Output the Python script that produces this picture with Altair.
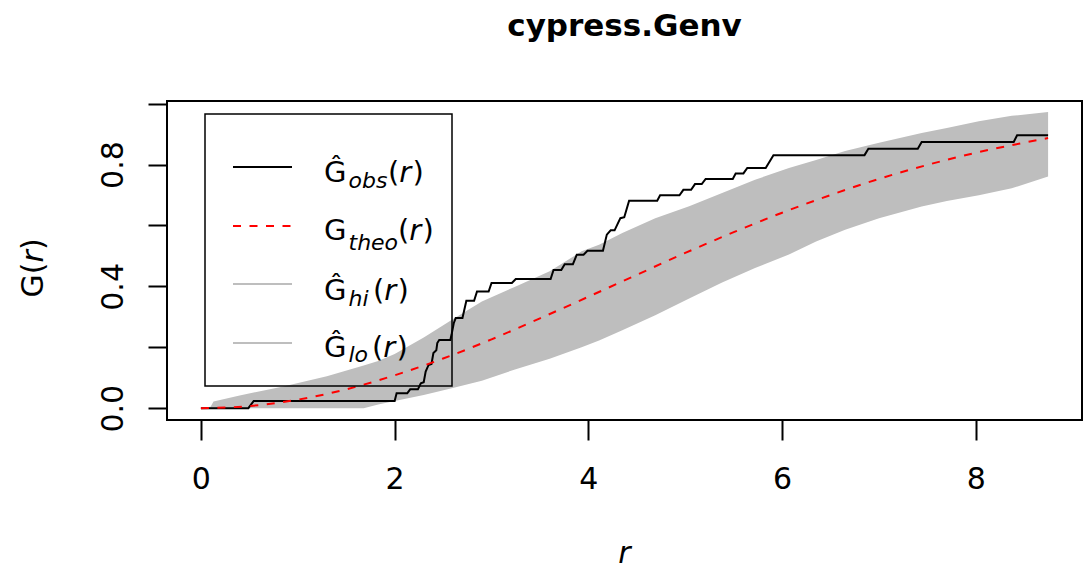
import altair as alt
import pandas as pd

# ---------------- data ----------------
TITLE = "cypress.Genv"
X_TICKS = [0, 2, 4, 6, 8]
Y_TICKS = [0.0, 0.2, 0.4, 0.6, 0.8, 1.0]
Y_LABELED = ["0.0", "0.4", "0.8"]

r_obs = [0, 0.49, 0.545, 2.00, 2.02, 2.13, 2.16, 2.24, 2.27, 2.30, 2.32, 2.35, 2.38,
         2.40, 2.43, 2.44, 2.46, 2.575, 2.59, 2.61, 2.63, 2.70, 2.74, 2.82, 2.85, 2.97,
         3.00, 3.21, 3.25, 3.61, 3.64, 3.72, 3.755, 3.84, 3.88, 3.95, 3.99, 4.15, 4.19,
         4.23, 4.27, 4.33, 4.37, 4.42, 4.71, 4.74, 4.94, 4.98, 5.06, 5.10, 5.17, 5.21,
         5.49, 5.52, 5.60, 5.64, 5.83, 5.91, 6.85, 6.89, 7.40, 7.44, 8.39, 8.425, 8.745]
g_obs = [0, 0, 0.024, 0.024, 0.049, 0.049, 0.062, 0.062, 0.082, 0.085, 0.120, 0.142, 0.145,
         0.181, 0.19, 0.214, 0.224, 0.224, 0.246, 0.279, 0.296, 0.296, 0.353, 0.353, 0.383, 0.383,
         0.411, 0.411, 0.424, 0.424, 0.454, 0.454, 0.473, 0.473, 0.504, 0.504, 0.517, 0.517, 0.570,
         0.584, 0.584, 0.624, 0.627, 0.681, 0.681, 0.699, 0.699, 0.717, 0.717, 0.736, 0.736, 0.753,
         0.753, 0.771, 0.771, 0.789, 0.789, 0.831, 0.831, 0.852, 0.852, 0.874, 0.874, 0.896, 0.896]

r_theo = [0, 0.5, 1.0, 1.5, 2.0, 2.5, 3.0, 3.5, 4.0, 4.5, 5.0, 5.5, 6.0, 6.5, 7.0, 7.5, 8.0, 8.5, 8.745]
g_theo = [0, 0.007, 0.028, 0.062, 0.108, 0.163, 0.226, 0.295, 0.366, 0.438, 0.510, 0.578, 0.642,
          0.700, 0.753, 0.799, 0.839, 0.872, 0.887]

r_env = [0, 0.10, 0.13, 0.40, 0.85, 1.30, 1.68, 1.83, 2.00, 2.30, 2.60, 2.90, 3.25, 3.60, 3.93,
         4.11, 4.35, 4.69, 5.04, 5.38, 5.72, 6.07, 6.35, 6.65, 7.00, 7.44, 7.70, 8.03, 8.37, 8.745]
g_hi = [0, 0.005, 0.022, 0.042, 0.071, 0.105, 0.14, 0.155, 0.178, 0.232, 0.292, 0.35, 0.40, 0.45, 0.515,
        0.537, 0.575, 0.624, 0.663, 0.707, 0.75, 0.789, 0.815, 0.845, 0.872, 0.904, 0.92, 0.942, 0.96, 0.973]
g_lo = [0, 0, 0, 0, 0, 0, 0, 0.012, 0.024, 0.043, 0.066, 0.09, 0.128, 0.162, 0.2,
        0.222, 0.256, 0.305, 0.36, 0.413, 0.46, 0.505, 0.547, 0.586, 0.624, 0.662, 0.68, 0.699, 0.722, 0.761]

LEGEND_SUBS = ["obs", "theo", "hi", "lo"]
LEGEND_HAT = [True, False, True, True]

# ---------------- styling ----------------
FONT = "DejaVu Sans"
GREY = "#BEBEBE"
W, H = 915, 319
PAD_L, PAD_T = 167, 101

obs_df = pd.DataFrame({"r": r_obs, "g": g_obs})
theo_df = pd.DataFrame({"r": r_theo, "g": g_theo})
env_df = pd.DataFrame({"r": r_env, "hi": g_hi, "lo": g_lo})
one = pd.DataFrame({"k": [0]})

xscale = alt.Scale(domain=[-0.35, 9.095], nice=False, zero=False)
yscale = alt.Scale(domain=[-0.0388, 1.0088], nice=False, zero=False)

xaxis = alt.Axis(values=X_TICKS, format="d", title=None, grid=False, domain=False, tickSize=20,
                 tickWidth=2, tickColor="black", labelFontSize=30, labelFont=FONT,
                 labelColor="black", labelPadding=24, labelFlush=False, labelOverlap=False)
yaxis = alt.Axis(values=Y_TICKS, title=None, grid=False, domain=False, tickSize=19, tickWidth=2,
                 tickColor="black", labelFontSize=30, labelFont=FONT, labelColor="black",
                 labelAngle=270, labelAlign="center", labelBaseline="alphabetic",
                 labelPadding=26, labelFlush=False, labelOverlap=False,
                 labelExpr="indexof(" + str(Y_LABELED) + ", format(datum.value, '.1f')) >= 0 ? format(datum.value, '.1f') : ''")

env = alt.Chart(env_df).mark_area(color=GREY, opacity=1).encode(
    x=alt.X("r:Q", scale=xscale, axis=xaxis),
    y=alt.Y("lo:Q", scale=yscale, axis=yaxis),
    y2="hi:Q",
)
obs = alt.Chart(obs_df).mark_line(color="black", strokeWidth=2).encode(
    x=alt.X("r:Q", scale=xscale), y=alt.Y("g:Q", scale=yscale))
theo = alt.Chart(theo_df).mark_line(color="red", strokeWidth=2, strokeDash=[8, 8.5],
                                    interpolate="monotone").encode(
    x=alt.X("r:Q", scale=xscale), y=alt.Y("g:Q", scale=yscale))


def txt(text, x, y, size, style="normal", weight="normal", angle=0, align="left"):
    return alt.Chart(one).mark_text(text=text, fontSize=size, font=FONT, fontStyle=style,
                                    fontWeight=weight, angle=angle, align=align,
                                    baseline="alphabetic", color="black").encode(
        x=alt.value(x), y=alt.value(y))


layers = [env, obs, theo]

# title
layers.append(txt(TITLE, W / 2, 36 - PAD_T, 31, weight="bold", align="center"))
# x title (italic r)
layers.append(txt("r", W / 2, 563 - PAD_T, 30, style="italic", align="center"))
# y title G(r), rotated
yx = 43 - PAD_L
ystart = 167 + 29.5
layers.append(txt("G(", yx, ystart, 30, angle=270))
layers.append(txt("r", yx, ystart - 35, 30, style="italic", angle=270))
layers.append(txt(")", yx, ystart - 47.5, 30, angle=270))

# legend box
layers.append(alt.Chart(one).mark_rect(fillOpacity=0, stroke="black", strokeWidth=1.5).encode(
    x=alt.value(205 - PAD_L), x2=alt.value(452 - PAD_L),
    y=alt.value(114 - PAD_T), y2=alt.value(386 - PAD_T)))

line_y = [167, 226, 284, 343]
base_y = [182, 240, 300, 357]
sub_dy = [6, 10, 6, 5]
paren_x = [388, 398, 373, 372]
line_styles = [("black", None), ("red", [8, 8.5]), (GREY, None), (GREY, None)]
for i, sub in enumerate(LEGEND_SUBS):
    col, dash = line_styles[i]
    kw = dict(color=col, strokeWidth=2)
    if dash:
        kw["strokeDash"] = dash
    layers.append(alt.Chart(one).mark_rule(**kw).encode(
        x=alt.value(233 - PAD_L), x2=alt.value(292 - PAD_L), y=alt.value(line_y[i] - PAD_T)))
    gx = 324 - PAD_L
    by = base_y[i] - PAD_T
    layers.append(txt("\u011C" if LEGEND_HAT[i] else "G", gx, by, 29))
    layers.append(txt(sub, 348.5 - PAD_L, by + sub_dy[i], 22, style="italic"))
    px = paren_x[i] - PAD_L
    layers.append(txt("(", px, by, 29))
    layers.append(txt("r", px + 11.3, by, 29, style="italic"))
    layers.append(txt(")", px + 24.5, by, 29))

chart = alt.layer(*layers).properties(
    width=W, height=H, autosize="none",
    padding={"left": PAD_L, "top": PAD_T, "right": 1084 - PAD_L - W, "bottom": 569 - PAD_T - H},
).configure_view(stroke="black", strokeWidth=2)

chart.save("out.html", embed_options={"renderer": "svg", "actions": False})
